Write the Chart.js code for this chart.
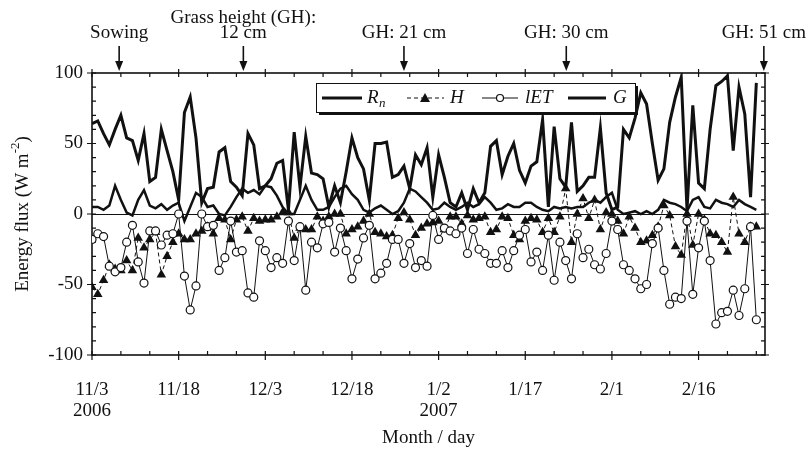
<!DOCTYPE html>
<html>
<head>
<meta charset="utf-8">
<script src="https://cdn.jsdelivr.net/npm/chart.js@4.4.0/dist/chart.umd.min.js"></script>
<style>
  html, body { margin: 0; padding: 0; background: #fff; }
</style>
</head>
<body>
<canvas id="myChart" width="810" height="450"></canvas>
<script>
'use strict';

// daily values (W m-2), day 0 = 11/3/2006
const rn = [64, 66, 57, 49, 60, 70, 54, 52, 38, 57, 23, 26, 60, 45, 30, 10, 72, 83, 54, 8,
  18, 19, 44, 47, 23, 19, 13, 57, 49, 18, 20, 25, 36, 38, 3, 58, 19, 55, 29, 28,
  25, 5, 20, 8, 30, 54, 40, 32, 10, 50, 50, 51, 26, 28, 34, 18, 42, 35, 47, 12,
  42, 26, 8, 5, 15, 3, 18, 8, 15, 48, 52, 28, 41, 50, 31, 22, 34, 37, 67, 5,
  62, 25, 19, 65, 16, 20, 26, 26, 61, 15, 3, 5, 60, 54, 68, 86, 78, 50, 24, 32,
  65, 83, 97, 3, 77, 22, 18, 60, 91, 94, 98, 45, 90, 71, 12, 93];
const h = [-52, -57, -47, -36, -39, -40, -33, -40, -17, -24, -18, -13, -43, -30, -20, -14, -18, -18, -14, -12,
  -9, -14, -3, -4, -18, -4, -2, -12, -3, -5, -4, -4, -2, 1, 1, -17, -10, -11, -11, -2,
  -5, -2, 0, 0, -14, -11, -9, -5, 0, -13, -14, -16, -15, -3, 1, -4, -15, -10, -7, -6,
  -5, -11, -2, -2, -7, -1, -4, -3, -2, -13, -11, -2, -3, -15, -18, -5, -3, -4, -13, -3,
  -13, -2, 18, -20, 0, 11, -3, 10, -11, 1, 0, -5, -14, -2, -10, -20, -19, -15, -9, 6,
  -1, -23, -29, 0, -22, 0, -4, -14, -15, -20, -27, 12, -14, -20, -9, -9];
const lET = [-18, -14, -16, -37, -41, -38, -20, -8, -34, -49, -12, -12, -22, -15, -14, 0, -44, -68, -51, 0,
  -9, -8, -40, -31, -5, -27, -26, -56, -59, -19, -26, -38, -31, -35, -5, -33, -9, -54, -20, -24,
  -7, -6, -27, -10, -26, -46, -32, -17, -8, -46, -42, -35, -18, -18, -35, -21, -38, -33, -37, -1,
  -18, -10, -12, -14, -10, -28, -11, -25, -28, -35, -35, -26, -38, -26, -15, -11, -34, -27, -40, -15,
  -47, -20, -33, -46, -14, -31, -25, -36, -39, -28, -5, -11, -36, -40, -46, -53, -50, -21, -10, -40,
  -64, -59, -60, -5, -57, -24, -5, -33, -78, -70, -69, -54, -72, -53, -9, -75];
const g = [5, 5, 3, 6, 20, 10, 1, -1, 10, 17, 6, 4, 7, 3, 6, 8, -5, 5, 15, 12,
  5, 6, 0, -1, 5, 12, 18, 15, 17, 14, 20, 19, 13, 5, 0, 0, 10, 20, 10, 3,
  3, 5, 12, 18, 20, 14, 10, 3, 1, 4, 6, 3, 0, 2, 8, 18, 16, 12, 8, 3,
  4, 8, 5, 3, 5, 8, 5, 7, 12, 8, 3, 4, 7, 5, 5, 8, 8, 5, 3, 2,
  5, 4, 5, 4, 5, 5, 8, 10, 8, 12, 15, 3, 0, 1, 2, 0, 2, 0, 3, 10,
  8, 7, 5, 2, 10, 12, 5, 4, 10, 8, 7, 5, 10, 7, 5, 3];

const days = rn.map((v, i) => i);

const xTickLabels = ['11/3', '11/18', '12/3', '12/18', '1/2', '1/17', '2/1', '2/16'];
const xTickYears = ['2006', '', '', '', '2007', '', '', ''];

const eventLabels = [['Sowing'], ['Grass height (GH):', '12 cm'], ['GH: 21 cm'], ['GH: 30 cm'], ['GH: 51 cm']];
const eventDays = [4.7, 26.2, 54, 82.1, 116.3];

const SERIF = '"Liberation Serif", "DejaVu Serif", serif';

function toPts(arr) {
  return arr.map((v, i) => ({x: days[i], y: v}));
}

// frame, minor ticks, zero line
const framePlugin = {
  id: 'frame',
  beforeDatasetsDraw(chart) {
    const ctx = chart.ctx;
    const a = chart.chartArea;
    const xs = chart.scales.x, ys = chart.scales.y;
    ctx.save();
    ctx.strokeStyle = '#111';
    ctx.lineWidth = 1;
    let y0 = Math.round(ys.getPixelForValue(0)) + 0.5;
    ctx.beginPath();
    ctx.moveTo(a.left, y0); ctx.lineTo(a.right, y0);
    ctx.stroke();

    ctx.lineWidth = 1.6;
    ctx.strokeRect(a.left, a.top, a.right - a.left, a.bottom - a.top);

    ctx.lineWidth = 1.2;
    ctx.beginPath();
    for (let d = 0; d <= 115; d += 5) {
      const px = xs.getPixelForValue(d);
      const major = d % 15 === 0;
      ctx.moveTo(px, a.bottom + (major ? 5 : 0)); ctx.lineTo(px, a.bottom - 4);
      ctx.moveTo(px, a.top - (major ? 4 : 0)); ctx.lineTo(px, a.top + 4);
    }
    for (let v = -100; v <= 100; v += 10) {
      const py = ys.getPixelForValue(v);
      const major = v % 50 === 0;
      ctx.moveTo(a.left - (major ? 5 : 0), py); ctx.lineTo(a.left + 4, py);
      ctx.moveTo(a.right + (major ? 4 : 0), py); ctx.lineTo(a.right - 4, py);
    }
    ctx.stroke();
    ctx.restore();
  },
  afterDraw(chart) {
    const ctx = chart.ctx;
    const a = chart.chartArea;
    const xs = chart.scales.x;
    ctx.save();
    ctx.fillStyle = '#111';
    ctx.strokeStyle = '#111';

    // event arrows on top
    ctx.font = '19px ' + SERIF;
    ctx.textAlign = 'center';
    ctx.textBaseline = 'middle';
    eventLabels.forEach((lines, i) => {
      const px = xs.getPixelForValue(eventDays[i]);
      const last = lines.length - 1;
      lines.forEach((t, j) => {
        ctx.fillText(t, px, 33 - (last - j) * 15);
      });
      ctx.lineWidth = 1.6;
      ctx.beginPath();
      ctx.moveTo(px, 46); ctx.lineTo(px, 64);
      ctx.stroke();
      ctx.beginPath();
      ctx.moveTo(px - 4, 61); ctx.lineTo(px + 4, 61); ctx.lineTo(px, 71);
      ctx.closePath();
      ctx.fill();
    });

    // axis titles
    ctx.font = '19px ' + SERIF;
    ctx.fillText('Month / day', (a.left + a.right) / 2, 438);

    ctx.save();
    ctx.translate(23, 214);
    ctx.rotate(-Math.PI / 2);
    const t1 = 'Energy flux (W m';
    const t2 = '-2';
    const t3 = ')';
    ctx.font = '19px ' + SERIF;
    const w1 = ctx.measureText(t1).width, w3 = ctx.measureText(t3).width;
    ctx.font = '13px ' + SERIF;
    const w2 = ctx.measureText(t2).width;
    let sx = -(w1 + w2 + w3) / 2;
    ctx.textAlign = 'left';
    ctx.font = '19px ' + SERIF;
    ctx.fillText(t1, sx, 0);
    ctx.font = '13px ' + SERIF;
    ctx.fillText(t2, sx + w1, -7);
    ctx.font = '19px ' + SERIF;
    ctx.fillText(t3, sx + w1 + w2, 0);
    ctx.restore();

    // legend box with shadow
    const lx = 316, ly = 83, lw = 319, lh = 29;
    ctx.fillRect(lx + 3, ly + 3, lw, lh);
    ctx.fillStyle = '#fff';
    ctx.fillRect(lx, ly, lw, lh);
    ctx.lineWidth = 1;
    ctx.strokeRect(lx + 0.5, ly + 0.5, lw, lh);
    ctx.fillStyle = '#111';

    const cy = ly + 15;
    ctx.textAlign = 'left';
    ctx.textBaseline = 'middle';
    // Rn
    ctx.lineWidth = 3;
    ctx.beginPath(); ctx.moveTo(322, cy); ctx.lineTo(362, cy); ctx.stroke();
    ctx.font = 'italic 19px ' + SERIF;
    ctx.fillText('R', 367, cy);
    ctx.font = 'italic 13px ' + SERIF;
    ctx.fillText('n', 379, cy + 6);
    // H
    ctx.lineWidth = 1;
    ctx.setLineDash([4, 3]);
    ctx.beginPath(); ctx.moveTo(407, cy); ctx.lineTo(444, cy); ctx.stroke();
    ctx.setLineDash([]);
    ctx.beginPath();
    ctx.moveTo(425, cy - 5); ctx.lineTo(430, cy + 4); ctx.lineTo(420, cy + 4);
    ctx.closePath(); ctx.fill();
    ctx.font = 'italic 19px ' + SERIF;
    ctx.fillText('H', 450, cy);
    // lET
    ctx.beginPath(); ctx.moveTo(482, cy); ctx.lineTo(518, cy); ctx.stroke();
    ctx.beginPath(); ctx.arc(500, cy, 3.5, 0, Math.PI * 2);
    ctx.fillStyle = '#fff'; ctx.fill(); ctx.lineWidth = 1.2; ctx.stroke();
    ctx.fillStyle = '#111';
    ctx.fillText('lET', 525, cy);
    // G
    ctx.lineWidth = 3;
    ctx.beginPath(); ctx.moveTo(568, cy); ctx.lineTo(606, cy); ctx.stroke();
    ctx.fillText('G', 613, cy);

    ctx.restore();
  }
};

let ctxMap = document.getElementById('myChart');
let chart = new Chart(ctxMap, {
  type: 'line',
  data: {
    datasets: [
      {
        label: 'lET',
        data: toPts(lET),
        borderColor: '#111',
        borderWidth: 1,
        pointStyle: 'circle',
        pointRadius: 4,
        pointBackgroundColor: '#fff',
        pointBorderColor: '#111',
        pointBorderWidth: 1.2,
        order: 1
      },
      {
        label: 'H',
        data: toPts(h),
        borderColor: '#111',
        borderWidth: 1,
        borderDash: [4, 3],
        pointStyle: 'triangle',
        pointRadius: 5.5,
        pointBackgroundColor: '#111',
        pointBorderColor: '#111',
        pointBorderWidth: 0,
        order: 2
      },
      {
        label: 'Rn',
        data: toPts(rn),
        borderColor: '#111',
        borderWidth: 3,
        pointRadius: 0,
        order: 3
      },
      {
        label: 'G',
        data: toPts(g),
        borderColor: '#111',
        borderWidth: 2.5,
        pointRadius: 0,
        order: 4
      }
    ]
  },
  options: {
    responsive: false,
    animation: false,
    devicePixelRatio: 1,
    layout: { padding: { left: 0, right: 45, top: 73, bottom: 0 } },
    plugins: { legend: { display: false }, tooltip: { enabled: false } },
    elements: { line: { tension: 0 } },
    scales: {
      x: {
        type: 'linear',
        min: 0,
        max: 116.5,
        grid: { display: false, drawTicks: false },
        border: { display: false },
        afterFit: function(scale) { scale.height = 95; },
        ticks: {
          stepSize: 15,
          includeBounds: false,
          autoSkip: false,
          maxRotation: 0,
          padding: 25,
          color: '#111',
          font: { family: SERIF, size: 19, lineHeight: 1.1 },
          callback: function(value) {
            const i = Math.round(value / 15);
            if (value % 15 !== 0 || i >= xTickLabels.length) return '';
            return xTickYears[i] ? [xTickLabels[i], xTickYears[i]] : xTickLabels[i];
          }
        }
      },
      y: {
        min: -100,
        max: 100,
        grid: { display: false, drawTicks: false },
        border: { display: false },
        afterFit: function(scale) { scale.width = 92; },
        ticks: {
          stepSize: 50,
          padding: 9,
          color: '#111',
          font: { family: SERIF, size: 19 }
        }
      }
    }
  },
  plugins: [framePlugin]
});
</script>
</body>
</html>
